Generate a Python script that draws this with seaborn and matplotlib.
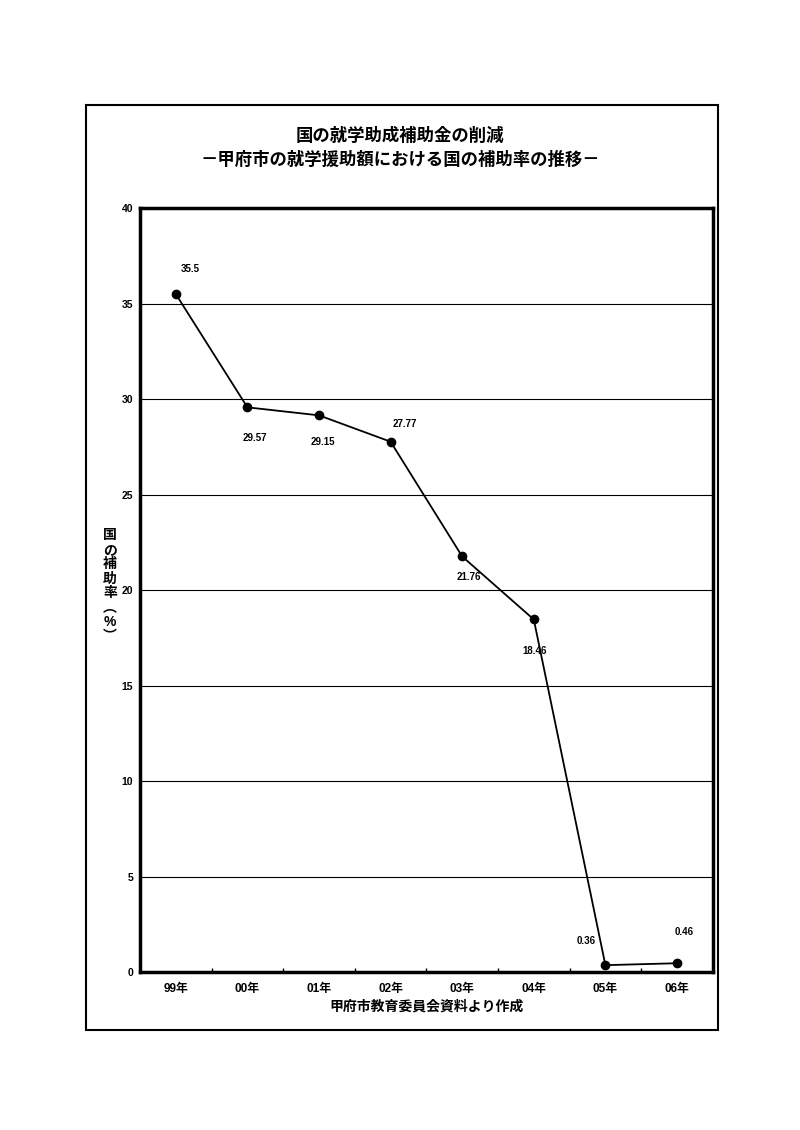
import numpy as np
import pandas as pd
import matplotlib
matplotlib.use('Agg')
import matplotlib.pyplot as plt
import seaborn as sns
from matplotlib.patches import Rectangle

sns.set_theme(style='white')
plt.rcParams['font.family'] = ['Liberation Sans', 'Noto Sans CJK JP', 'DejaVu Sans']
plt.rcParams['text.color'] = 'black'
plt.rcParams['axes.labelcolor'] = 'black'
plt.rcParams['xtick.color'] = 'black'
plt.rcParams['ytick.color'] = 'black'

# data
years = ['99年', '00年', '01年', '02年', '03年', '04年', '05年', '06年']
rates = [35.5, 29.57, 29.15, 27.77, 21.76, 18.46, 0.36, 0.46]
label_text = ['35.5', '29.57', '29.15', '27.77', '21.76', '18.46', '0.36', '0.46']
# label offsets in pixels (dx, dy)
offsets = [(14, 25), (7, -31), (4, -27), (14, 18), (7, -21), (1, -32), (-19, 24), (7, 31)]

df = pd.DataFrame({'year': years, 'rate': rates})

fig = plt.figure(figsize=(8, 11.3), dpi=100)
fig.patch.set_facecolor('white')

# outer frame
fig.patches.append(Rectangle((0.1075, 0.0885), 0.79, 0.8185, transform=fig.transFigure,
                             fill=False, edgecolor='black', linewidth=1.5))

ax = fig.add_axes([0.175, 0.1398, 0.716, 0.676])
sns.pointplot(data=df, x='year', y='rate', color='black', markers='o',
              linewidth=1.3, markersize=6, ax=ax)

ax.set_xlim(-0.5, len(years) - 0.5)
ax.set_ylim(0, 40)
ax.set_yticks(np.arange(0, 41, 5))
ax.set_yticklabels([str(v) for v in range(0, 41, 5)], fontsize=7.5, fontweight='bold')
ax.yaxis.grid(True, color='black', linewidth=0.8)
ax.xaxis.grid(False)
ax.set_axisbelow(True)

ax.set_xticks(range(len(years)))
ax.set_xticklabels(years, fontsize=8.5, fontweight='bold')
ax.set_xticks(np.arange(0.5, len(years) - 0.5, 1), minor=True)
ax.tick_params(axis='x', which='major', length=0, pad=8)
ax.tick_params(axis='x', which='minor', direction='in', length=3, width=1, bottom=True)
ax.tick_params(axis='y', length=0, pad=5)

for s in ax.spines.values():
    s.set_visible(True)
    s.set_color('black')
    s.set_linewidth(2.5)

for i, (v, t) in enumerate(zip(rates, label_text)):
    dx, dy = offsets[i]
    ax.annotate(t, (i, v), xytext=(dx, dy), textcoords='offset pixels',
                ha='center', va='center', fontsize=7, fontweight='bold')

ax.set_xlabel('甲府市教育委員会資料より作成', fontsize=10, fontweight='bold', labelpad=3)
ax.set_ylabel('')

fig.text(0.1375, 1 - 586 / 1130, '国\nの\n補\n助\n率\n︵\n%\n︶', ha='center', va='center',
         fontsize=10, fontweight='bold', linespacing=1.05)

fig.text(0.5, 1 - 135 / 1130, '国の就学助成補助金の削減', ha='center', va='center',
         fontsize=12.5, fontweight='bold')
fig.text(0.5, 1 - 159 / 1130, '－甲府市の就学援助額における国の補助率の推移－', ha='center',
         va='center', fontsize=12.5, fontweight='bold')

fig.savefig('out.png', dpi=100)
